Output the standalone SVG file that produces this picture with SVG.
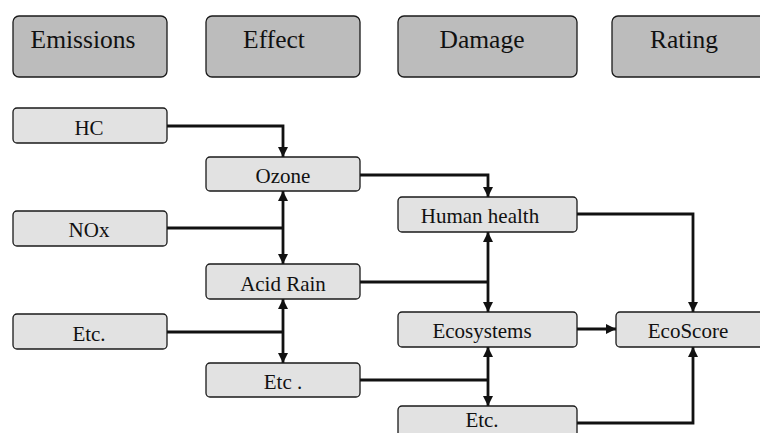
<svg xmlns="http://www.w3.org/2000/svg" width="760" height="433" viewBox="0 0 760 433">
<style>
.hdr{fill:#bcbcbc;stroke:#1a1a1a;stroke-width:1.3}
.box{fill:#e2e2e2;stroke:#1a1a1a;stroke-width:1.3}
.ht{font-family:"Liberation Serif","Times New Roman",serif;font-size:25.5px;fill:#111;text-anchor:middle}
.bt{font-family:"Liberation Serif","Times New Roman",serif;font-size:21px;fill:#111;text-anchor:middle}
.c{fill:none;stroke:#111;stroke-width:2.8}
.a{marker-end:url(#ah)}
.b{marker-start:url(#ah);marker-end:url(#ah)}
</style>
<defs>
<marker id="ah" markerUnits="userSpaceOnUse" markerWidth="12" markerHeight="12" refX="10" refY="5" orient="auto-start-reverse">
<path d="M0,0 L10,5 L0,10 z" fill="#111"/>
</marker>
</defs>
<rect width="760" height="433" fill="#fff"/>
<g id="hdr-emissions"><rect class="hdr" x="13" y="16" width="154" height="61" rx="6"/><text class="ht" x="83" y="48">Emissions</text></g>
<g id="hdr-effect"><rect class="hdr" x="206" y="16" width="154" height="61" rx="6"/><text class="ht" x="274" y="48">Effect</text></g>
<g id="hdr-damage"><rect class="hdr" x="398" y="16" width="179" height="61" rx="6"/><text class="ht" x="482" y="48">Damage</text></g>
<g id="hdr-rating"><rect class="hdr" x="612" y="16" width="160" height="61" rx="6"/><text class="ht" x="684" y="48">Rating</text></g>

<g id="connectors">
<path class="c a" d="M167,126 H283 V157"/>
<path class="c a" d="M360,175 H488 V197"/>
<path class="c" d="M167,228 H283"/>
<path class="c b" d="M283,191 V264"/>
<path class="c" d="M360,282 H488"/>
<path class="c b" d="M488,232 V312"/>
<path class="c" d="M167,332 H283"/>
<path class="c b" d="M283,299 V363"/>
<path class="c" d="M360,380 H488"/>
<path class="c b" d="M488,347 V406"/>
<path class="c a" d="M577,214 H693 V312"/>
<path class="c a" d="M577,329 H616"/>
<path class="c a" d="M577,423 H693 V347"/>
</g>

<g id="hc"><rect class="box" x="13" y="108" width="154" height="35" rx="4"/><text class="bt" x="89" y="135">HC</text></g>
<g id="nox"><rect class="box" x="13" y="211" width="154" height="35" rx="4"/><text class="bt" x="89" y="237">NOx</text></g>
<g id="etc-em"><rect class="box" x="13" y="314" width="154" height="35" rx="4"/><text class="bt" x="89" y="341">Etc.</text></g>
<g id="ozone"><rect class="box" x="206" y="157" width="154" height="34" rx="4"/><text class="bt" x="283" y="183">Ozone</text></g>
<g id="acid-rain"><rect class="box" x="206" y="264" width="154" height="35" rx="4"/><text class="bt" x="283" y="291">Acid Rain</text></g>
<g id="etc-eff"><rect class="box" x="206" y="363" width="154" height="34" rx="4"/><text class="bt" x="283" y="389">Etc .</text></g>
<g id="human-health"><rect class="box" x="398" y="197" width="179" height="35" rx="4"/><text class="bt" x="480" y="223">Human health</text></g>
<g id="ecosystems"><rect class="box" x="398" y="312" width="179" height="35" rx="4"/><text class="bt" x="482" y="338">Ecosystems</text></g>
<g id="etc-dmg"><rect class="box" x="398" y="406" width="179" height="40" rx="4"/><text class="bt" x="482" y="427">Etc.</text></g>
<g id="ecoscore"><rect class="box" x="616" y="312" width="160" height="35" rx="4"/><text class="bt" x="688" y="338">EcoScore</text></g>
</svg>
